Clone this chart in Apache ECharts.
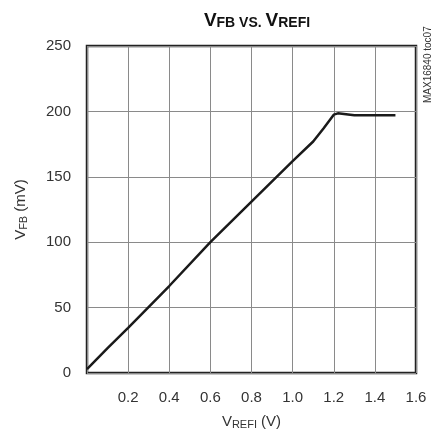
<!DOCTYPE html>
<html><head><meta charset="utf-8">
<script src="https://cdn.jsdelivr.net/npm/echarts@6/dist/echarts.min.js"></script>
<style>html,body{margin:0;padding:0;background:#fff}#c{width:432px;height:435px}</style>
</head><body><div id="c"></div>
<script>
const vrefi = [0, 0.05, 0.1, 0.2, 0.4, 0.6, 0.8, 1.0, 1.1, 1.15, 1.2, 1.22, 1.25, 1.3, 1.4, 1.5];
const vfb   = [3, 11, 19, 34.5, 66.5, 100, 131, 162, 177, 187, 197.5, 198.5, 198, 197, 197, 197];
const xTicks = [0, 0.2, 0.4, 0.6, 0.8, 1.0, 1.2, 1.4, 1.6];
const yTicks = [0, 50, 100, 150, 200, 250];

const font = '"Liberation Sans Narrow", "Liberation Sans", Arial, sans-serif';
const chart = echarts.init(document.getElementById('c'), null, {renderer: 'canvas'});
chart.setOption({
  animation: false,
  backgroundColor: '#fff',
  title: {
    text: '{a|V}{b|FB}{c| VS. }{a|V}{b|REFI}',
    left: 252, top: 6, textAlign: 'center',
    textStyle: {
      rich: {
        a: {fontFamily: font, fontWeight: 'bold', fontSize: 19, color: '#111'},
        b: {fontFamily: font, fontWeight: 'bold', fontSize: 14, color: '#111', verticalAlign: 'bottom', padding: [5, 0, 0, 0]},
        c: {fontFamily: font, fontWeight: 'bold', fontSize: 14, color: '#111', verticalAlign: 'bottom', padding: [5, 0, 0, 0]}
      }
    }
  },
  grid: {left: 87, right: 16, top: 46, bottom: 59, show: true, borderColor: '#222', borderWidth: 2.5, backgroundColor: 'transparent'},
  xAxis: {
    type: 'value', min: xTicks[0], max: xTicks[xTicks.length - 1], interval: 0.2,
    axisLine: {show: false}, axisTick: {show: false},
    splitLine: {show: true, lineStyle: {color: '#8a8a8a', width: 1}},
    axisLabel: {
      fontFamily: font, fontSize: 15, color: '#333', margin: 17,
      formatter: v => v === 0 ? '' : v.toFixed(1)
    },
    name: '{a|V}{b|REFI}{a| (V)}', nameLocation: 'middle', nameGap: 40,
    nameTextStyle: {
      rich: {
        a: {fontFamily: font, fontSize: 15, color: '#333'},
        b: {fontFamily: font, fontSize: 11, color: '#333', verticalAlign: 'bottom', padding: [6, 0, 0, 0]}
      }
    }
  },
  yAxis: {
    type: 'value', min: yTicks[0], max: yTicks[yTicks.length - 1], interval: 50,
    axisLine: {show: false}, axisTick: {show: false},
    splitLine: {show: true, lineStyle: {color: '#8a8a8a', width: 1}},
    axisLabel: {fontFamily: font, fontSize: 15, color: '#333', margin: 16},
    name: '{a|V}{b|FB}{a| (mV)}', nameLocation: 'middle', nameGap: 58,
    nameTextStyle: {
      rich: {
        a: {fontFamily: font, fontSize: 15, color: '#333'},
        b: {fontFamily: font, fontSize: 11, color: '#333', verticalAlign: 'bottom', padding: [6, 0, 0, 0]}
      }
    }
  },
  graphic: [{
    type: 'text', x: 423, y: 103, rotation: Math.PI / 2,
    style: {text: 'MAX16840 toc07', fontFamily: font, fontSize: 10, fill: '#333', textVerticalAlign: 'top'}
  }],
  series: [{
    type: 'line', data: vrefi.map((x, i) => [x, vfb[i]]),
    showSymbol: false, smooth: false,
    lineStyle: {color: '#1a1a1a', width: 2.5}
  }]
});
</script></body></html>
